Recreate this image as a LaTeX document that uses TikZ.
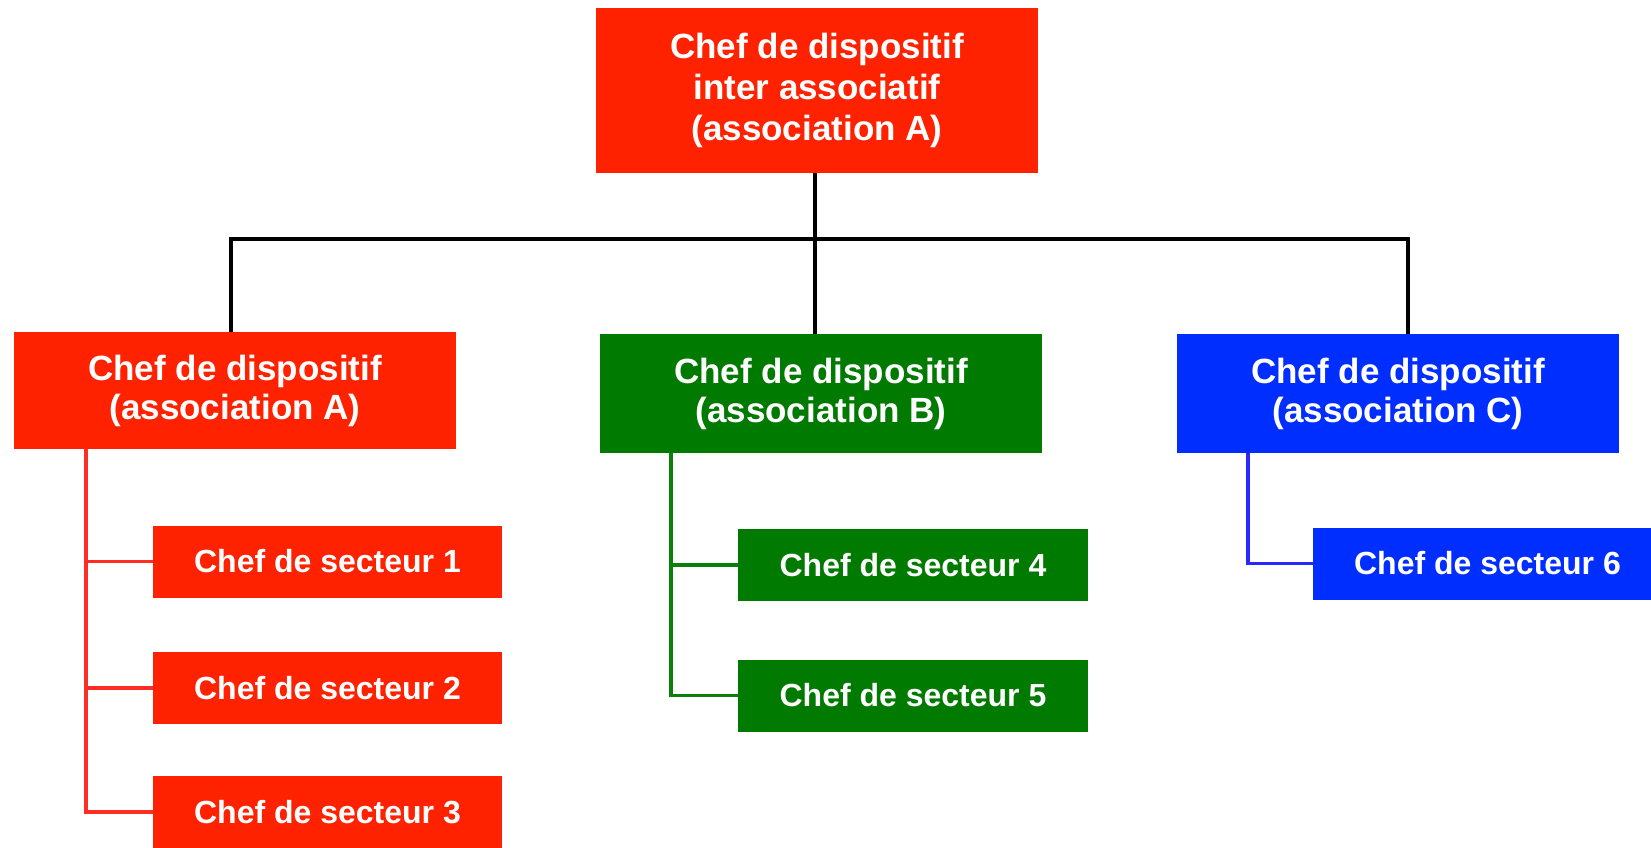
\documentclass[tikz,border=0pt]{standalone}
\usepackage{fontspec}
\setmainfont{Liberation Sans}
\definecolor{boxred}{RGB}{255,34,0}
\definecolor{boxgreen}{RGB}{0,122,0}
\definecolor{boxblue}{RGB}{0,46,255}
\definecolor{linered}{RGB}{255,45,35}
\definecolor{linegreen}{RGB}{10,128,10}
\definecolor{lineblue}{RGB}{40,40,255}
\begin{document}
\begin{tikzpicture}[x=1pt,y=-1pt,
  basebox/.style={inner sep=0pt, text=white, align=center},
  bigbox/.style={basebox, minimum width=442pt, font=\fontsize{35}{39}\selectfont\bfseries},
  secbox/.style={basebox, minimum width=349pt, minimum height=72pt, font=\fontsize{32}{40}\selectfont\bfseries},
  bus/.style={line width=3.2pt, black},
  redline/.style={line width=3.5pt, linered},
  greenline/.style={line width=3.5pt, linegreen},
  blueline/.style={line width=3.5pt, lineblue}]
\useasboundingbox (0,0) rectangle (1651,848);

\node[bigbox, fill=boxred, minimum height=165pt, font=\fontsize{35}{41}\selectfont\bfseries] (top) at (817,90.5) {Chef de dispositif\\inter associatif\\(association A)};
\node[bigbox, fill=boxred, minimum height=117pt] (A) at (235,390.5) {Chef de dispositif\\(association A)};
\node[bigbox, fill=boxgreen, minimum height=119pt] (B) at (821,393.5) {Chef de dispositif\\(association B)};
\node[bigbox, fill=boxblue, minimum height=119pt] (C) at (1398,393.5) {Chef de dispositif\\(association C)};

\node[secbox, fill=boxred] (s1) at (327.5,561.5) {Chef de secteur 1};
\node[secbox, fill=boxred] (s2) at (327.5,688) {Chef de secteur 2};
\node[secbox, fill=boxred] (s3) at (327.5,812) {Chef de secteur 3};
\node[secbox, fill=boxgreen, minimum width=350pt] (s4) at (913,565) {Chef de secteur 4};
\node[secbox, fill=boxgreen, minimum width=350pt] (s5) at (913,695.5) {Chef de secteur 5};
\node[secbox, fill=boxblue] (s6) at (1487.5,563.5) {Chef de secteur 6};

\coordinate (busc) at (815,239);
\draw[bus] ([xshift=-2pt]top.south) -- (busc);
\draw[bus] (busc) -| ([xshift=-4pt]A.north);
\draw[bus] (busc) -| ([xshift=-6pt]B.north);
\draw[bus] (busc) -| ([xshift=10pt]C.north);

\draw[redline] ([xshift=72pt]A.south west) |- (s1.west);
\draw[redline] ([xshift=72pt]A.south west) |- (s2.west);
\draw[redline] ([xshift=72pt]A.south west) |- (s3.west);
\draw[greenline] ([xshift=71pt]B.south west) |- (s4.west);
\draw[greenline] ([xshift=71pt]B.south west) |- (s5.west);
\draw[blueline] ([xshift=71pt]C.south west) |- (s6.west);
\end{tikzpicture}
\end{document}
